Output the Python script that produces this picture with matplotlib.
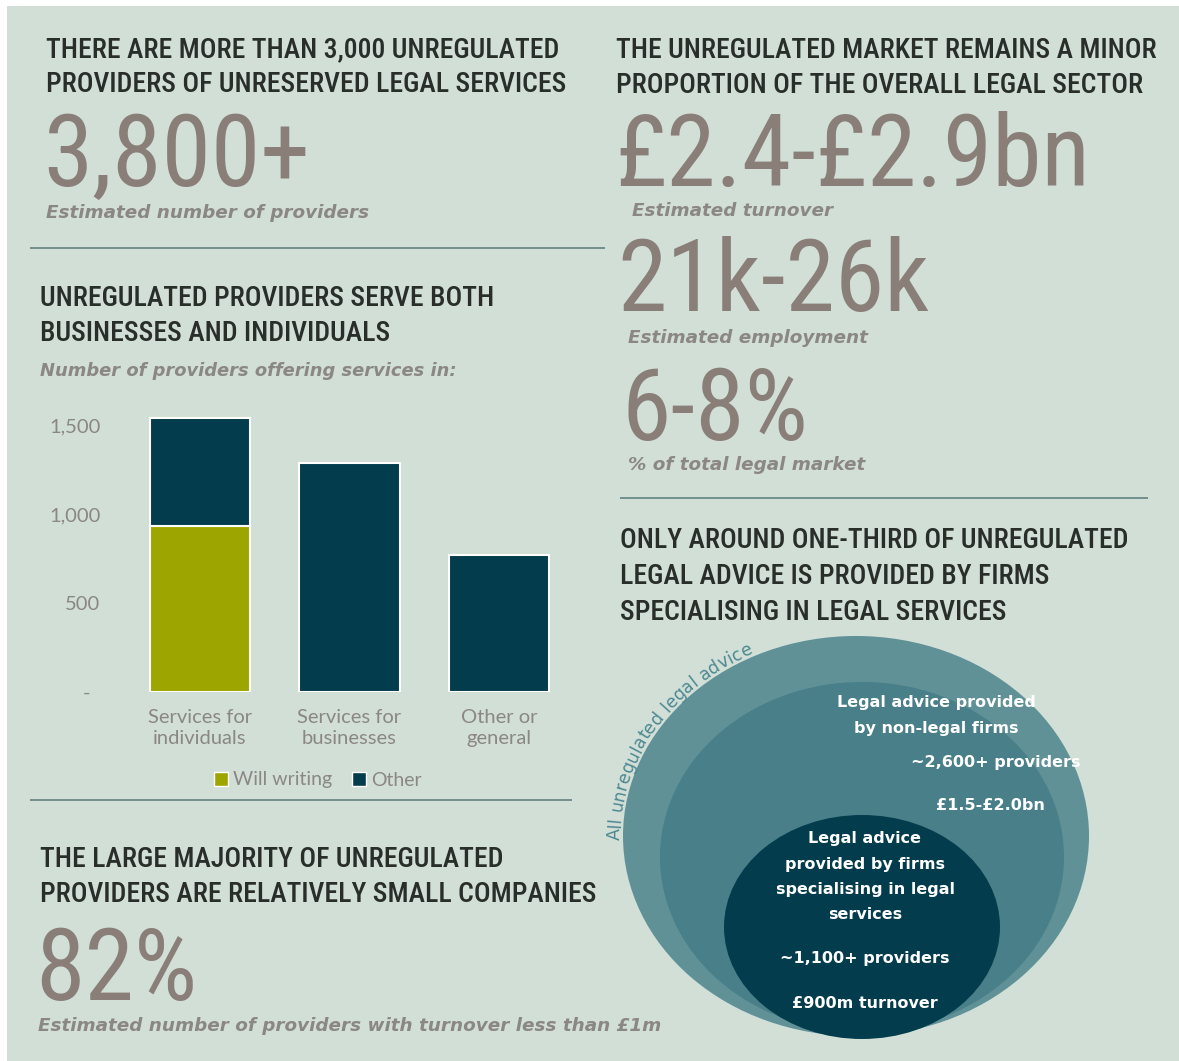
import numpy as np
import matplotlib
matplotlib.use('Agg')
import matplotlib.pyplot as plt
from matplotlib.patches import Rectangle, Ellipse, Patch
from matplotlib.font_manager import FontProperties

# ---- data ----
categories = ['Services for\nindividuals', 'Services for\nbusinesses', 'Other or\ngeneral']
will_writing = [935, 0, 0]
other = [605, 1285, 770]
ytick_values = [0, 500, 1000, 1500]
ytick_labels = ['-  ', '500', '1,000', '1,500']
series_names = ['Will writing', 'Other']

headline_providers = '3,800+'
headline_turnover = '£2.4-£2.9bn'
headline_employment = '21k-26k'
headline_share = '6-8%'
headline_small = '82%'

nonlegal_lines = ['Legal advice provided', 'by non-legal firms']
nonlegal_providers = '~2,600+ providers'
nonlegal_turnover = '£1.5-£2.0bn'
specialist_lines = ['Legal advice', 'provided by firms', 'specialising in legal', 'services']
specialist_providers = '~1,100+ providers'
specialist_turnover = '£900m turnover'
arc_label = 'All unregulated legal advice'

# ---- styles ----
BG = '#d1dfd7'
TITLE = '#2a2e2b'
BIG = '#8a7f78'
CAPTION = '#8b8783'
RULE = '#728f8f'
OLIVE = '#9da600'
NAVY = '#033c4d'
TEAL_OUT = '#5f9197'
TEAL_MID = '#497f89'
ARC_TEXT = '#4d8891'
COND = ['Roboto Condensed', 'Fira Sans Condensed', 'DejaVu Sans']
BODY = ['DejaVu Sans']
LABEL = ['Lato', 'DejaVu Sans']

W, H = 1179, 1061
fig = plt.figure(figsize=(W / 100, H / 100), dpi=100, facecolor='white')

# full-size axes working in pixel units, y pointing down
bg = fig.add_axes([0, 0, 1, 1])
bg.set_xlim(0, W)
bg.set_ylim(H, 0)
bg.axis('off')
bg.add_patch(Rectangle((7, 6), W - 7, H - 6, facecolor=BG, edgecolor='none'))


def title(x, y, lines, gap=35):
    for i, line in enumerate(lines):
        bg.text(x, y + i * gap, line, fontsize=20, color=TITLE, family=COND,
                weight='medium', va='baseline')


def big(x, y, s):
    bg.text(x, y, s, fontsize=72, color=BIG, family=COND, va='baseline')


def caption(x, y, s, size=13.2):
    bg.text(x, y, s, fontsize=size, color=CAPTION, family=BODY, style='italic',
            weight='bold', va='baseline')


def rule(x0, x1, y):
    bg.plot([x0, x1], [y, y], color=RULE, lw=1.4, solid_capstyle='butt')


# ---- left column ----
title(46, 57, ['THERE ARE MORE THAN 3,000 UNREGULATED',
               'PROVIDERS OF UNRESERVED LEGAL SERVICES'])
big(43, 186, headline_providers)
caption(46, 218, 'Estimated number of providers')
rule(30, 605, 248)

title(40, 306, ['UNREGULATED PROVIDERS SERVE BOTH', 'BUSINESSES AND INDIVIDUALS'])
caption(40, 376, 'Number of providers offering services in:', size=12.9)

# stacked bar chart: 0 at y=692 px, 500 units per 89 px
px_per_unit = 89 / 500
y_top = 1700
ax = fig.add_axes([110 / W, (H - 692) / H, 480 / W, y_top * px_per_unit / H])
ax.set_facecolor('none')
x = np.arange(len(categories))
ax.bar(x, will_writing, width=0.67, color=OLIVE, edgecolor='white', lw=1.5)
ax.bar(x, other, width=0.67, bottom=will_writing, color=NAVY, edgecolor='white', lw=1.5)
ax.set_xlim(-90 / 149.5, 390 / 149.5)
ax.set_ylim(0, y_top)
ax.set_yticks(ytick_values, ytick_labels)
ax.set_xticks(x, categories)
ax.tick_params(length=0, labelcolor=CAPTION, labelsize=14.5)
ax.tick_params(axis='y', pad=7)
ax.tick_params(axis='x', pad=12)
for lab in ax.get_xticklabels() + ax.get_yticklabels():
    lab.set_family(LABEL)
    lab.set_linespacing(1.3)
for sp in ax.spines.values():
    sp.set_visible(False)

handles = [Patch(facecolor=OLIVE, edgecolor='white'), Patch(facecolor=NAVY, edgecolor='white')]
bg.legend(handles, series_names, loc='center', bbox_to_anchor=(318, 780),
          bbox_transform=bg.transData, ncol=2, frameon=False, handlelength=0.7,
          handleheight=0.7, handletextpad=0.3, columnspacing=1.0,
          prop={'family': LABEL, 'size': 14}, labelcolor=CAPTION)
rule(30, 572, 800)

title(40, 867, ['THE LARGE MAJORITY OF UNREGULATED',
                'PROVIDERS ARE RELATIVELY SMALL COMPANIES'])
big(35, 1000, headline_small)

# ---- right column ----
title(616, 58, ['THE UNREGULATED MARKET REMAINS A MINOR',
                'PROPORTION OF THE OVERALL LEGAL SECTOR'])
big(615, 186, headline_turnover)
caption(632, 216, 'Estimated turnover')
big(617, 311, headline_employment)
caption(628, 343, 'Estimated employment')
big(621, 440, headline_share)
caption(628, 470, '% of total legal market')
rule(620, 1148, 498)

title(620, 548, ['ONLY AROUND ONE-THIRD OF UNREGULATED',
                 'LEGAL ADVICE IS PROVIDED BY FIRMS',
                 'SPECIALISING IN LEGAL SERVICES'], gap=36)

# nested ellipses
outer = dict(cx=856, cy=836, w=466, h=400)
bg.add_patch(Ellipse((outer['cx'], outer['cy']), outer['w'], outer['h'],
                     facecolor=TEAL_OUT, edgecolor='none'))
bg.add_patch(Ellipse((862, 857), 404, 350, facecolor=TEAL_MID, edgecolor='none'))
bg.add_patch(Ellipse((862, 927), 276, 224, facecolor=NAVY, edgecolor='none'))

white = dict(color='white', family=BODY, weight='bold', fontsize=11.5, ha='center', va='center')
for i, line in enumerate(nonlegal_lines):
    bg.text(936, 703 + i * 25, line, **white)
bg.text(996, 763, nonlegal_providers, **white)
bg.text(990, 806, nonlegal_turnover, **white)
for i, line in enumerate(specialist_lines):
    bg.text(865, 839 + i * 25.3, line, **white)
bg.text(865, 959, specialist_providers, **white)
bg.text(865, 1003, specialist_turnover, **white)

# label running round the outer ellipse, clockwise from its left side
fp = FontProperties(family=BODY, size=12.5)
renderer = fig.canvas.get_renderer()


def text_width(s):
    return renderer.get_text_width_height_descent(s, fp, ismath=False)[0]


a_arc, b_arc = outer['w'] / 2 + 3, outer['h'] / 2 + 3
theta0 = np.radians(181)
thetas = theta0 - np.linspace(0, np.pi, 4000)
px = outer['cx'] + a_arc * np.cos(thetas)
py = outer['cy'] - b_arc * np.sin(thetas)
arc_len = np.concatenate([[0], np.cumsum(np.hypot(np.diff(px), np.diff(py)))])
for i, ch in enumerate(arc_label):
    s_mid = text_width(arc_label[:i]) + text_width(ch) / 2 if i else text_width(ch) / 2
    th = np.interp(s_mid, arc_len, thetas)
    xc = outer['cx'] + a_arc * np.cos(th)
    yc = outer['cy'] - b_arc * np.sin(th)
    rot = np.degrees(np.arctan2(-b_arc * np.cos(th), a_arc * np.sin(th)))
    bg.text(xc, yc, ch, fontproperties=fp, color=ARC_TEXT, rotation=rot,
            rotation_mode='anchor', ha='center', va='baseline')

caption(38, 1031, 'Estimated number of providers with turnover less than £1m')

fig.savefig('out.png', dpi=100, facecolor='white')
